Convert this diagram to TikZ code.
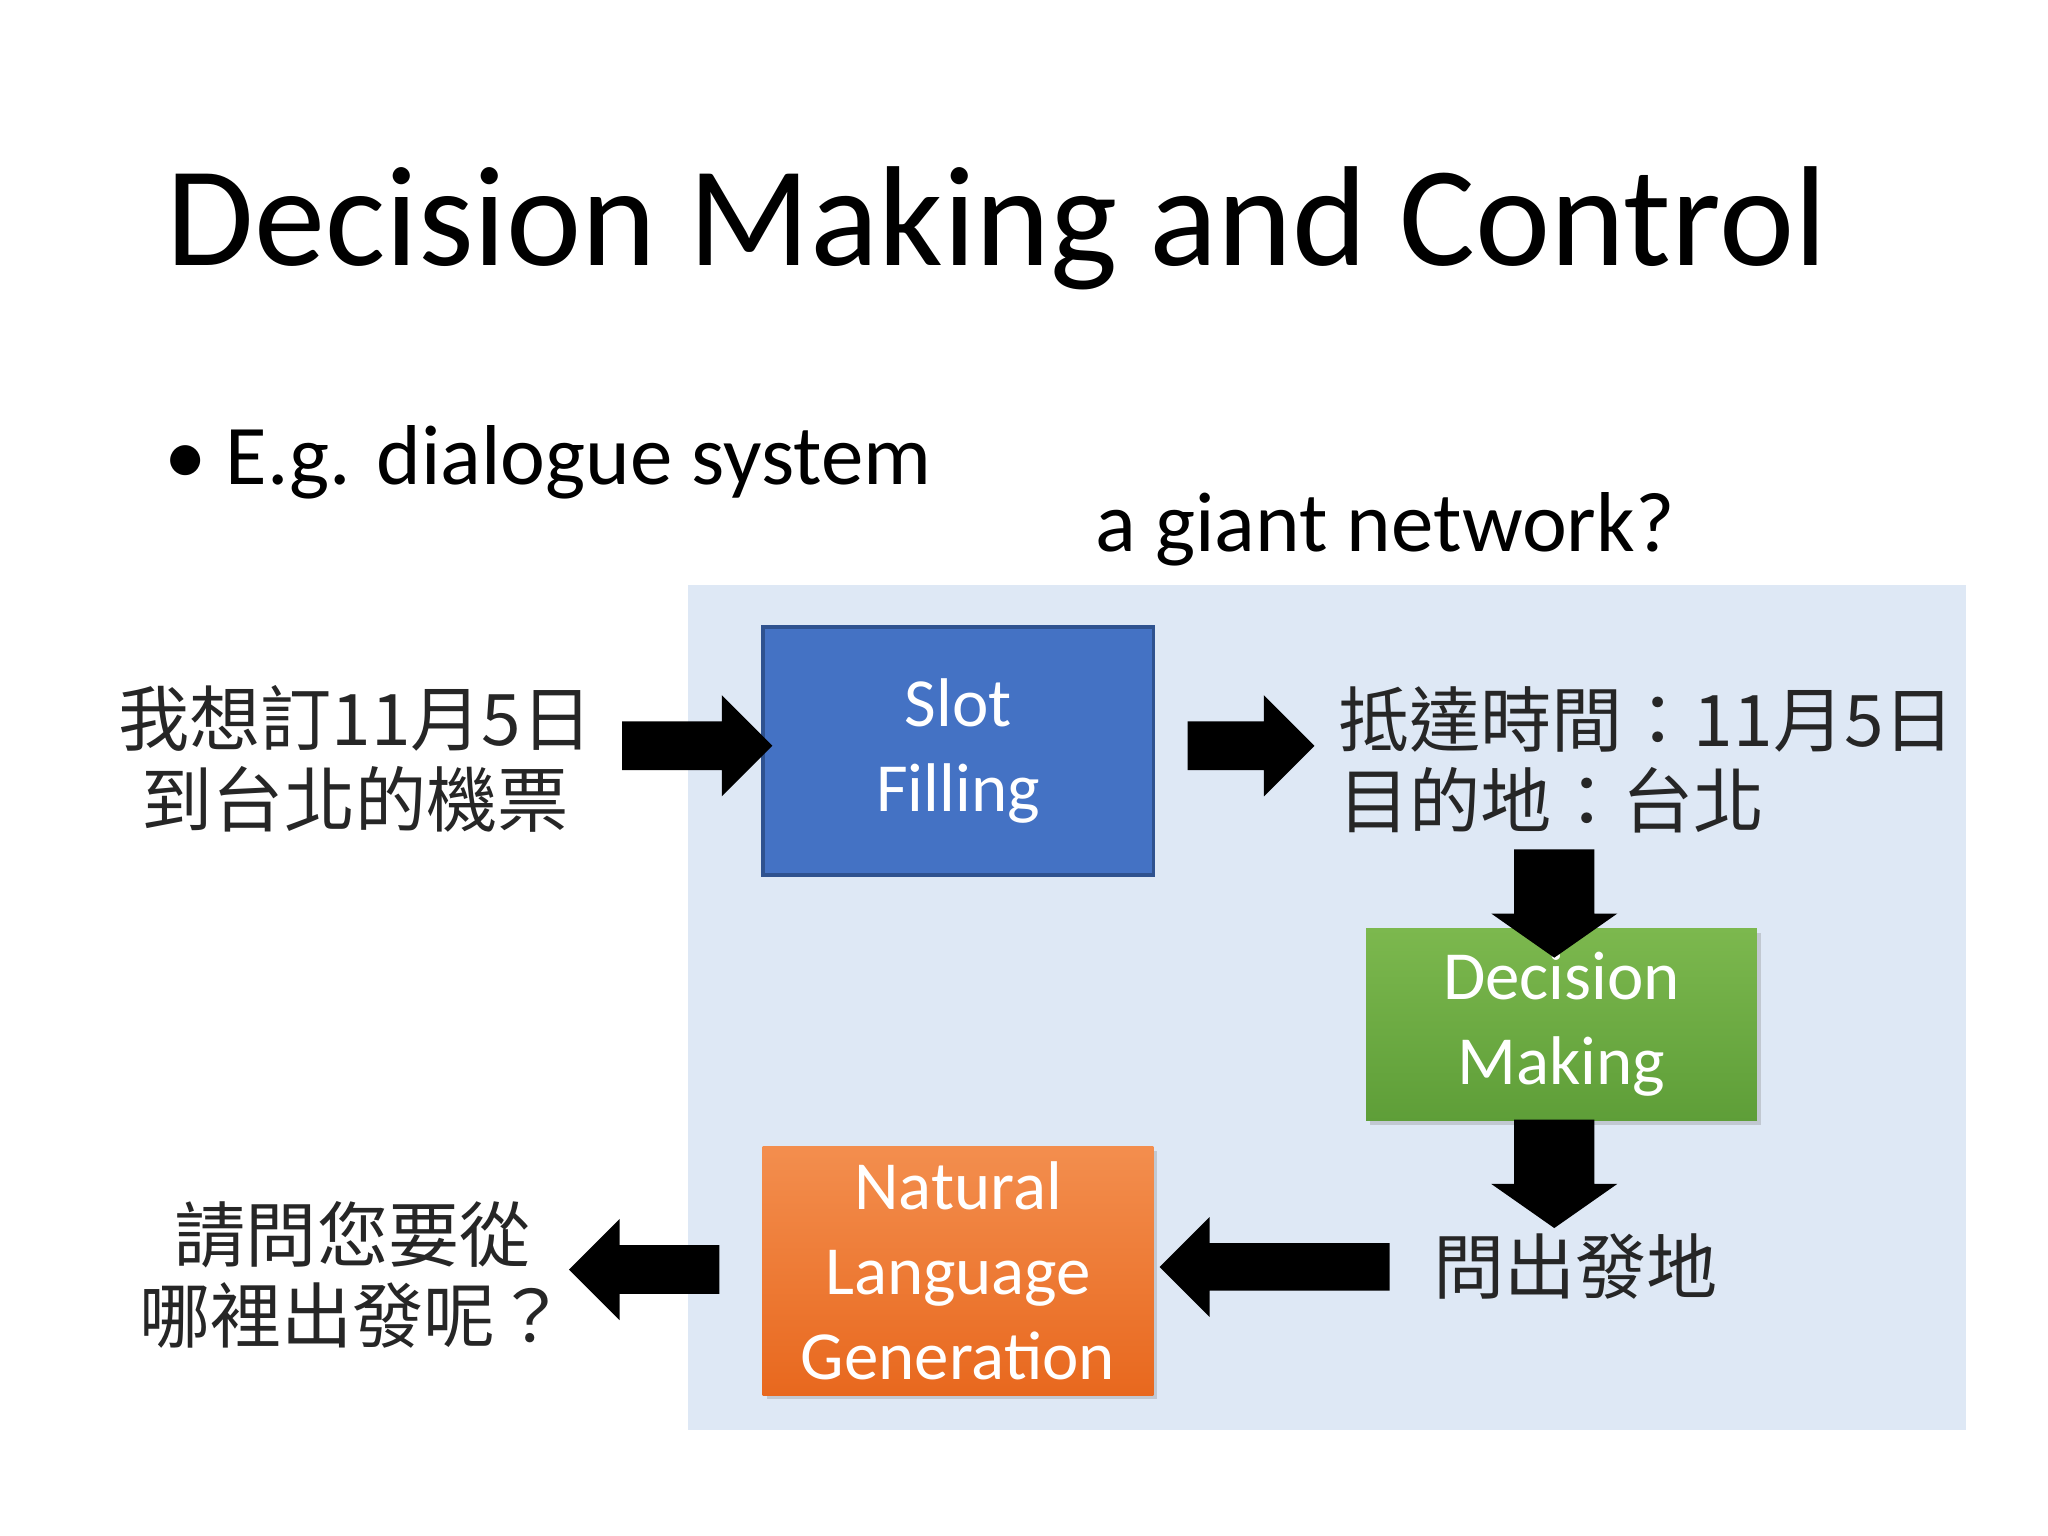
\documentclass[tikz,border=0pt]{standalone}
\usepackage{fontspec}
\setmainfont{Carlito}
\newfontfamily\cjk{Noto Sans CJK TC}
\usetikzlibrary{shapes.arrows,shadows}
\definecolor{bgblue}{HTML}{DEE8F5}
\definecolor{slotblue}{HTML}{4472C4}
\definecolor{slotborder}{HTML}{2F528F}
\definecolor{gtop}{HTML}{7CB84E}
\definecolor{gbot}{HTML}{5E9E38}
\definecolor{otop}{HTML}{F38E4E}
\definecolor{obot}{HTML}{E8681E}
\begin{document}
\begin{tikzpicture}[x=0.01cm,y=-0.01cm,
  box/.style={minimum width=2.99cm,align=center,text=white,font=\fontsize{15}{18.5}\selectfont,inner sep=0pt},
  shad/.style={drop shadow={opacity=0.3,shadow xshift=0.03cm,shadow yshift=-0.03cm}},
  barrow/.style={single arrow,fill=black,draw=none,inner sep=0.18cm,minimum width=0.76cm,single arrow head extend=0.2cm,single arrow tip angle=90},
  darrow/.style={single arrow,fill=black,draw=none,inner sep=0.3cm,minimum width=0.95cm,single arrow head extend=0.175cm,single arrow tip angle=110,shape border rotate=270,minimum height=0.6cm},
  cjkt/.style={font=\cjk\fontsize{15.5}{17.6}\selectfont,align=center,text=black!85}]
\path[use as bounding box,fill=white] (0,0) rectangle (1568,1176);
\node[anchor=base west,font=\fontsize{31}{36}\selectfont,inner sep=0] (title) at (127,203) {Decision Making and Control};
\node[anchor=base west,font=\fontsize{18.5}{22}\selectfont,inner sep=0] (bul) at (125,371) {\textbullet\ E.g. dialogue system};
\node[anchor=base west,font=\fontsize{18.5}{22}\selectfont,inner sep=0] (giant) at (838,422) {a giant network?};
\fill[bgblue] (527,448) rectangle (1505,1095);
\node[box,fill=slotblue,draw=slotborder,line width=0.8pt,minimum height=1.9cm] (slot) at (733.5,575) {Slot\\Filling};
\node[box,top color=gtop,bottom color=gbot,minimum height=1.47cm,shad] (dm) at (1195.5,784.5) {Decision\\Making};
\node[box,top color=otop,bottom color=obot,minimum height=1.9cm,shad] (nlg) at (733.5,973) {Natural\\Language\\Generation};
\node[cjkt] (in) at (272,581) {我想訂11月5日\\到台北的機票};
\node[cjkt,align=left,anchor=west] (slots) at (1012,582) {抵達時間：11月5日\\目的地：台北};
\node[cjkt,anchor=west] (ask) at (1085,970) {問出發地};
\node[cjkt] (out) at (270,976) {請問您要從\\哪裡出發呢？};
\node[barrow,minimum height=1.15cm] (a1) at (524.5,571) {};
\node[barrow,minimum height=0.97cm] (a2) at (948.5,571) {};
\node[darrow] (a3) at (1190,681) {};
\node[darrow] (a4) at (1190,888) {};
\node[barrow,minimum height=1.76cm,shape border rotate=180,inner sep=0.175cm,minimum width=0.75cm] (a5) at (985,970) {};
\node[barrow,minimum height=1.15cm,shape border rotate=180] (a6) at (502.5,972) {};
\end{tikzpicture}
\end{document}
